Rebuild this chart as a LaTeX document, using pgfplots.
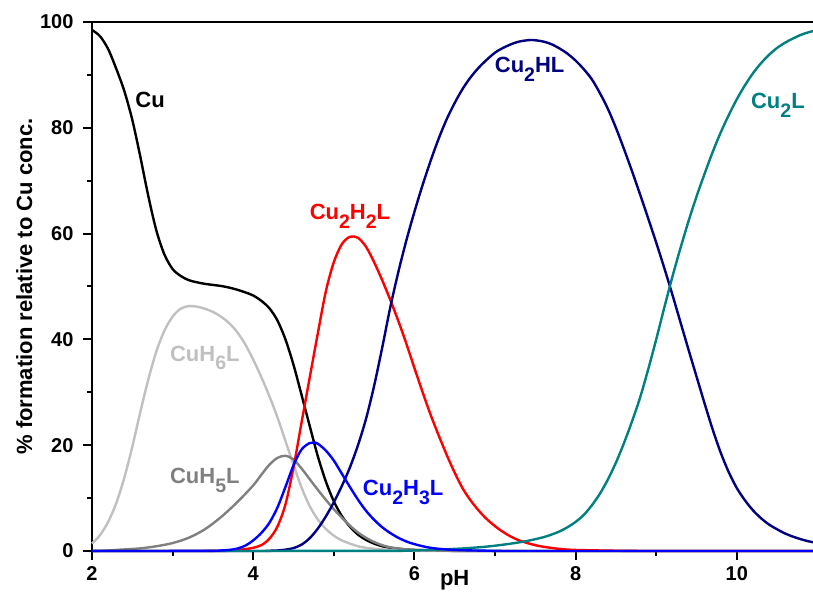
\documentclass[border=0pt]{standalone}
\usepackage{pgfplots}
\pgfplotsset{compat=1.18}
\usepackage{fontspec}
\setmainfont{Liberation Sans}
\definecolor{cLight}{RGB}{192,192,192}
\definecolor{cGray}{RGB}{128,128,128}
\definecolor{cNavy}{RGB}{0,0,128}
\definecolor{cTeal}{RGB}{0,128,128}
\newcommand\tck{\fontsize{20}{22}\selectfont\bfseries}
\newcommand\lbl{\fontsize{22}{24}\selectfont\bfseries}
\newcommand\sub[1]{\raisebox{-0.4em}{\fontsize{19.5}{20}\selectfont\bfseries #1}}
\begin{document}
\begin{tikzpicture}
\begin{axis}[
  name=ax,
  scale only axis, width=725.4pt, height=529pt,
  xmin=2, xmax=11, ymin=0, ymax=100,
  axis x line*=bottom, axis y line*=left,
  axis line style={line width=2.6pt, black},
  xtick={2,4,6,8,10}, ytick={0,20,40,60,80,100},
  minor x tick num=1, minor y tick num=1,
  tick align=outside,
  major tick length=9pt, minor tick length=5pt,
  every tick/.style={line width=2pt, black},
  /pgf/number format/assume math mode=true,
  tick label style={font=\tck},
  xticklabel style={yshift=-3pt},
  yticklabel style={xshift=-6pt},
  xlabel={pH},
  ylabel={\% formation relative to Cu conc.},
  label style={font=\lbl},
  x label style={at={(axis description cs:0.5,-0.055)}, anchor=center},
  y label style={at={(axis description cs:-0.0935,0.5)}, anchor=center, rotate=0},
  clip=false,
  every axis plot/.style={line width=2.4pt, smooth},
]
% Cu (black)
\addplot[black] coordinates {
(2.0,98.5)(2.1,97.3)(2.2,94.9)(2.3,91.2)(2.4,87)(2.5,81.5)(2.6,74.5)(2.7,67)
(2.8,60.5)(2.9,56)(3.0,53.3)(3.1,52)(3.2,51.2)(3.3,50.8)(3.4,50.5)(3.5,50.3)(3.6,50.1)
(3.7,49.8)(3.8,49.4)(3.9,48.9)(4.0,48.3)
(4.1,47.3)(4.2,45.9)(4.3,43.6)(4.4,40)(4.5,35.2)(4.6,29.5)(4.7,23.7)(4.8,18)
(4.9,13.2)(5.0,9.4)(5.1,6.6)(5.2,4.6)(5.3,3.1)(5.4,2.1)(5.5,1.4)(5.6,0.9)(5.7,0.6)
(5.8,0.4)(6.0,0.2)(6.5,0.03)(7,0)(11,0)};
% CuH6L (light grey)
\addplot[cLight] coordinates {
(2.0,1.4)(2.1,3)(2.2,5.5)(2.3,9)(2.4,13.8)(2.5,19.7)(2.6,26.3)(2.7,32.5)(2.8,37.8)
(2.9,41.7)(3.0,44.3)(3.1,45.8)(3.2,46.3)(3.3,46.2)(3.4,45.8)(3.5,45.2)(3.6,44.3)
(3.7,43.1)(3.8,41.4)(3.9,39.1)(4.0,36.2)(4.1,32.9)(4.2,29.3)(4.3,25.3)(4.4,20.8)
(4.5,16.3)(4.6,12)(4.7,8.5)(4.8,6)(4.9,4.2)(5.0,2.9)(5.1,2)(5.2,1.4)(5.3,0.9)
(5.4,0.6)(5.6,0.3)(5.8,0.1)(6.0,0.05)(6.5,0)(11,0)};
% CuH5L (grey)
\addplot[cGray] coordinates {
(2.0,0)(2.2,0.1)(2.4,0.3)(2.6,0.5)(2.8,0.9)(3.0,1.5)(3.2,2.5)(3.4,4.1)(3.6,6.4)(3.8,9.2)
(4.0,12.4)(4.1,14.4)(4.2,16.3)(4.3,17.6)(4.4,18)(4.5,17.3)(4.6,15.6)(4.7,13.6)
(4.8,11.6)(4.9,9.7)(5.0,7.9)(5.1,6.3)(5.2,4.8)(5.3,3.5)(5.4,2.5)(5.5,1.7)(5.6,1.1)
(5.7,0.7)(5.8,0.5)(6.0,0.2)(6.5,0.02)(7,0)(11,0)};
% Cu2H2L (red)
\addplot[red] coordinates {
(2,0)(3.6,0.02)(3.8,0.2)(3.9,0.35)(4.0,0.6)(4.1,1.1)(4.2,2.3)(4.3,4.6)(4.4,8.8)(4.5,15.8)
(4.6,24.3)(4.7,32.7)(4.8,41)(4.9,49)(5.0,54.6)(5.1,58)(5.2,59.4)(5.3,59.2)
(5.4,57.5)(5.5,54.6)(5.6,51.2)(5.7,47.5)(5.8,43.5)(5.9,39.2)(6.0,34.6)(6.1,30.1)
(6.2,25.8)(6.3,21.9)(6.4,18.2)(6.5,14.8)(6.6,11.8)(6.7,9.5)(6.8,7.6)(6.9,6.0)
(7.0,4.7)(7.1,3.6)(7.2,2.7)(7.3,2.0)(7.4,1.5)(7.5,1.1)(7.6,0.8)(7.8,0.4)(8.0,0.2)
(8.5,0.05)(9,0)(11,0)};
% Cu2HL (navy)
\addplot[cNavy] coordinates {
(2,0)(4.0,0)(4.2,0.05)(4.3,0.1)(4.4,0.25)(4.5,0.55)(4.6,1.2)(4.7,2.4)(4.8,4.2)(4.9,6.5)(5.0,9.2)
(5.1,12.3)(5.2,15.8)(5.3,20)(5.4,25)(5.5,31.2)(5.6,38.4)(5.7,46)(5.8,52.7)
(5.9,58.7)(6.0,64.1)(6.1,69.1)(6.2,73.7)(6.3,77.9)(6.4,81.6)(6.5,84.7)(6.6,87.4)
(6.7,89.6)(6.8,91.4)(6.9,92.9)(7.0,94.2)(7.1,95.1)(7.2,95.8)(7.3,96.3)(7.45,96.6)
(7.6,96.3)(7.7,95.8)(7.8,95)(7.9,94)(8.0,92.7)(8.1,91.1)(8.2,89.2)(8.3,86.6)(8.4,83.6)
(8.5,80)(8.6,76)(8.7,71.8)(8.8,67.4)(8.9,62.9)(9.0,58.3)(9.1,53.5)(9.2,48.5)(9.3,43.3)
(9.4,38.1)(9.5,33)(9.6,27.9)(9.7,23)(9.8,18.6)(9.9,14.9)(10.0,11.9)(10.1,9.6)(10.2,7.7)
(10.3,6.2)(10.4,5)(10.5,4.1)(10.6,3.3)(10.7,2.7)(10.8,2.2)(10.9,1.8)(11.0,1.5)};
% Cu2L (teal)
\addplot[cTeal] coordinates {
(2,0)(5.5,0.02)(6.0,0.1)(6.5,0.4)(6.8,0.7)(7.0,1.0)(7.2,1.4)(7.4,1.9)(7.6,2.6)(7.7,3.1)
(7.8,3.7)(7.9,4.5)(8.0,5.5)(8.1,6.8)(8.2,8.6)
(8.3,10.8)(8.4,13.5)(8.5,16.7)(8.6,20.4)(8.7,24.5)(8.8,29)(8.9,34.3)(9.0,40)(9.1,46)
(9.2,51.8)(9.3,57.2)(9.4,62.3)(9.5,67)(9.6,71.3)(9.7,75.4)(9.8,79.1)(9.9,82.4)
(10.0,85.4)(10.1,88)(10.2,90.3)(10.3,92.2)(10.4,93.8)(10.5,95.1)(10.6,96.1)
(10.7,96.9)(10.8,97.6)(10.9,98.1)(11.0,98.5)};
% Cu2H3L (blue)
\addplot[blue] coordinates {
(2.0,0)(3.4,0.02)(3.6,0.1)(3.7,0.2)(3.8,0.45)(3.9,1.0)(4.0,2.0)(4.1,3.4)(4.2,5.3)
(4.3,8.2)(4.4,12.1)(4.5,16.2)(4.6,19.2)(4.7,20.4)(4.75,20.5)(4.8,20.3)(4.9,19.0)
(5.0,17.1)(5.1,14.6)(5.2,12.1)(5.3,9.7)(5.4,7.6)(5.5,5.9)(5.6,4.5)(5.7,3.4)
(5.8,2.5)(5.9,1.8)(6.0,1.3)(6.2,0.6)(6.5,0.2)(7.0,0.03)(7.5,0)(11,0)};
\draw[line width=2.6pt, black] (rel axis cs:0,1) -- (rel axis cs:1,1);
\node[font=\lbl, text=black] at (axis cs:2.72,85.3) {Cu};
\node[font=\lbl, text=cLight] at (axis cs:3.4,36.5) {CuH\sub{6}L};
\node[font=\lbl, text=cGray] at (axis cs:3.4,13.3) {CuH\sub{5}L};
\node[font=\lbl, text=red] at (axis cs:5.2,63.3) {Cu\sub{2}H\sub{2}L};
\node[font=\lbl, text=blue] at (axis cs:5.86,11) {Cu\sub{2}H\sub{3}L};
\node[font=\lbl, text=cNavy] at (axis cs:7.43,91) {Cu\sub{2}HL};
\node[font=\lbl, text=cTeal] at (axis cs:10.51,84.3) {Cu\sub{2}L};
\end{axis}
\pgfresetboundingbox
\useasboundingbox (-92pt,-50pt) rectangle (721pt,551pt);
\end{tikzpicture}
\end{document}
